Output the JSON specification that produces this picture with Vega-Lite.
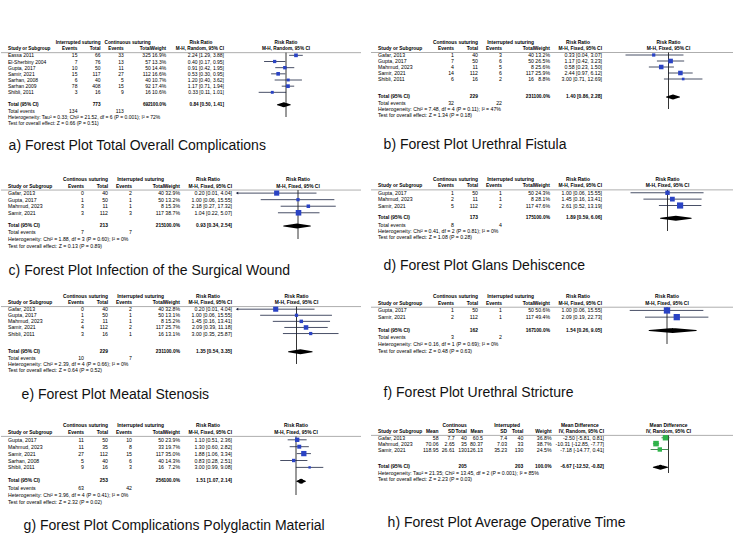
{
"$schema": "https://vega.github.io/schema/vega-lite/v6.json",
"background": "white",
"padding": {"left": 0, "top": 40, "right": 0, "bottom": 0},
"config": {
 "view": {"stroke": null},
 "font": "Liberation Sans",
 "title": {"fontSize": 14, "fontWeight": "normal", "color": "#111111", "font": "Liberation Sans"},
 "axis": {"labelFontSize": 5, "titleFontSize": 5, "titleFontWeight": "normal", "tickSize": 2, "labelPadding": 1, "titlePadding": 1.5, "domainColor": "#000", "tickColor": "#000", "labelColor": "#000", "titleColor": "#000", "domainWidth": 0.7, "tickWidth": 0.7, "grid": false, "labelOverlap": false, "labelFlush": false, "labelFont": "Liberation Sans", "titleFont": "Liberation Sans"}
},
"datasets": {
 "rows": [
  {"p":"a","row":"h1","t1":"Interrupted suturing","t2":"Continuous suturing","rr":"Risk Ratio","fh":"Risk Ratio"},
  {"p":"a","row":"h2","study":"Study or Subgroup","e1":"Events","t1":"Total","e2":"Events","t2":"Total","wt":"Weight","ci":"M-H, Random, 95% CI","fh":"M-H, Random, 95% CI"},
  {"p":"a","row":"Eassa 2011","study":"Eassa 2011","e1":"15","t1":"66","e2":"33","t2":"325","wt":"16.9%","ci":"2.24 [1.29, 3.88]","est":2.24,"lo":1.29,"hi":3.88,"w":16.9},
  {"p":"a","row":"El-Sherbiny 2004","study":"El-Sherbiny 2004","e1":"7","t1":"76","e2":"13","t2":"57","wt":"13.3%","ci":"0.40 [0.17, 0.95]","est":0.40,"lo":0.17,"hi":0.95,"w":13.3},
  {"p":"a","row":"Gupta, 2017","study":"Gupta, 2017","e1":"10","t1":"50","e2":"11","t2":"50","wt":"14.4%","ci":"0.91 [0.42, 1.95]","est":0.91,"lo":0.42,"hi":1.95,"w":14.4},
  {"p":"a","row":"Samir, 2021","study":"Samir, 2021","e1":"15","t1":"117","e2":"27","t2":"112","wt":"16.6%","ci":"0.53 [0.30, 0.95]","est":0.53,"lo":0.30,"hi":0.95,"w":16.6},
  {"p":"a","row":"Sarhan, 2008","study":"Sarhan, 2008","e1":"6","t1":"40","e2":"5","t2":"40","wt":"10.7%","ci":"1.20 [0.40, 3.62]","est":1.20,"lo":0.40,"hi":3.62,"w":10.7},
  {"p":"a","row":"Sarhan 2009","study":"Sarhan 2009","e1":"78","t1":"408","e2":"15","t2":"92","wt":"17.4%","ci":"1.17 [0.71, 1.94]","est":1.17,"lo":0.71,"hi":1.94,"w":17.4},
  {"p":"a","row":"Shibli, 2011","study":"Shibli, 2011","e1":"3","t1":"16","e2":"9","t2":"16","wt":"10.6%","ci":"0.33 [0.11, 1.01]","est":0.33,"lo":0.11,"hi":1.01,"w":10.6},
  {"p":"a","row":"Total (95% CI)","study":"Total (95% CI)","t1":"773","t2":"692","wt":"100.0%","ci":"0.84 [0.50, 1.41]","est":0.84,"lo":0.50,"hi":1.41},
  {"p":"a","row":"Total events","study":"Total events","e1":"134","e2":"113"},
  {"p":"a","row":"het","study":"Heterogeneity: Tau² = 0.33; Chi² = 21.52, df = 6 (P = 0.001); I² = 72%"},
  {"p":"a","row":"test","study":"Test for overall effect: Z = 0.66 (P = 0.51)"},

  {"p":"b","row":"h1","t1":"Continous suturing","t2":"Interrupted suturing","rr":"Risk Ratio","fh":"Risk Ratio"},
  {"p":"b","row":"h2","study":"Study or Subgroup","e1":"Events","t1":"Total","e2":"Events","t2":"Total","wt":"Weight","ci":"M-H, Fixed, 95% CI","fh":"M-H, Fixed, 95% CI"},
  {"p":"b","row":"Gafar, 2013","study":"Gafar, 2013","e1":"1","t1":"40","e2":"3","t2":"40","wt":"13.2%","ci":"0.33 [0.04, 3.07]","est":0.33,"lo":0.04,"hi":3.07,"w":13.2},
  {"p":"b","row":"Gupta, 2017","study":"Gupta, 2017","e1":"7","t1":"50","e2":"6","t2":"50","wt":"26.5%","ci":"1.17 [0.42, 3.23]","est":1.17,"lo":0.42,"hi":3.23,"w":26.5},
  {"p":"b","row":"Mahmud, 2023","study":"Mahmud, 2023","e1":"4","t1":"11","e2":"5","t2":"8","wt":"25.6%","ci":"0.58 [0.23, 1.50]","est":0.58,"lo":0.23,"hi":1.50,"w":25.6},
  {"p":"b","row":"Samir, 2021","study":"Samir, 2021","e1":"14","t1":"112","e2":"6","t2":"117","wt":"25.9%","ci":"2.44 [0.97, 6.12]","est":2.44,"lo":0.97,"hi":6.12,"w":25.9},
  {"p":"b","row":"Shibli, 2011","study":"Shibli, 2011","e1":"6","t1":"16","e2":"2","t2":"16","wt":"8.8%","ci":"3.00 [0.71, 12.69]","est":3.00,"lo":0.71,"hi":12.69,"w":8.8},
  {"p":"b","row":"Total (95% CI)","study":"Total (95% CI)","t1":"229","t2":"231","wt":"100.0%","ci":"1.40 [0.86, 2.28]","est":1.40,"lo":0.86,"hi":2.28},
  {"p":"b","row":"Total events","study":"Total events","e1":"32","e2":"22"},
  {"p":"b","row":"het","study":"Heterogeneity: Chi² = 7.48, df = 4 (P = 0.11); I² = 47%"},
  {"p":"b","row":"test","study":"Test for overall effect: Z = 1.34 (P = 0.18)"},

  {"p":"c","row":"h1","t1":"Continous suturing","t2":"Interrupted suturing","rr":"Risk Ratio","fh":"Risk Ratio"},
  {"p":"c","row":"h2","study":"Study or Subgroup","e1":"Events","t1":"Total","e2":"Events","t2":"Total","wt":"Weight","ci":"M-H, Fixed, 95% CI","fh":"M-H, Fixed, 95% CI"},
  {"p":"c","row":"Gafar, 2013","study":"Gafar, 2013","e1":"0","t1":"40","e2":"2","t2":"40","wt":"32.9%","ci":"0.20 [0.01, 4.04]","est":0.20,"lo":0.01,"hi":4.04,"w":32.9},
  {"p":"c","row":"Gupta, 2017","study":"Gupta, 2017","e1":"1","t1":"50","e2":"1","t2":"50","wt":"13.2%","ci":"1.00 [0.06, 15.55]","est":1.00,"lo":0.06,"hi":15.55,"w":13.2},
  {"p":"c","row":"Mahmud, 2023","study":"Mahmud, 2023","e1":"3","t1":"11","e2":"1","t2":"8","wt":"15.3%","ci":"2.18 [0.27, 17.32]","est":2.18,"lo":0.27,"hi":17.32,"w":15.3},
  {"p":"c","row":"Samir, 2021","study":"Samir, 2021","e1":"3","t1":"112","e2":"3","t2":"117","wt":"38.7%","ci":"1.04 [0.22, 5.07]","est":1.04,"lo":0.22,"hi":5.07,"w":38.7},
  {"p":"c","row":"Total (95% CI)","study":"Total (95% CI)","t1":"213","t2":"215","wt":"100.0%","ci":"0.93 [0.34, 2.54]","est":0.93,"lo":0.34,"hi":2.54},
  {"p":"c","row":"Total events","study":"Total events","e1":"7","e2":"7"},
  {"p":"c","row":"het","study":"Heterogeneity: Chi² = 1.88, df = 3 (P = 0.60); I² = 0%"},
  {"p":"c","row":"test","study":"Test for overall effect: Z = 0.13 (P = 0.89)"},

  {"p":"d","row":"h1","t1":"Continous suturing","t2":"Interrupted suturing","rr":"Risk Ratio","fh":"Risk Ratio"},
  {"p":"d","row":"h2","study":"Study or Subgroup","e1":"Events","t1":"Total","e2":"Events","t2":"Total","wt":"Weight","ci":"M-H, Fixed, 95% CI","fh":"M-H, Fixed, 95% CI"},
  {"p":"d","row":"Gupta, 2017","study":"Gupta, 2017","e1":"1","t1":"50","e2":"1","t2":"50","wt":"24.3%","ci":"1.00 [0.06, 15.55]","est":1.00,"lo":0.06,"hi":15.55,"w":24.3},
  {"p":"d","row":"Mahmud, 2023","study":"Mahmud, 2023","e1":"2","t1":"11","e2":"1","t2":"8","wt":"28.1%","ci":"1.45 [0.16, 13.41]","est":1.45,"lo":0.16,"hi":13.41,"w":28.1},
  {"p":"d","row":"Samir, 2021","study":"Samir, 2021","e1":"5","t1":"112","e2":"2","t2":"117","wt":"47.6%","ci":"2.61 [0.52, 13.19]","est":2.61,"lo":0.52,"hi":13.19,"w":47.6},
  {"p":"d","row":"Total (95% CI)","study":"Total (95% CI)","t1":"173","t2":"175","wt":"100.0%","ci":"1.89 [0.59, 6.06]","est":1.89,"lo":0.59,"hi":6.06},
  {"p":"d","row":"Total events","study":"Total events","e1":"8","e2":"4"},
  {"p":"d","row":"het","study":"Heterogeneity: Chi² = 0.41, df = 2 (P = 0.81); I² = 0%"},
  {"p":"d","row":"test","study":"Test for overall effect: Z = 1.08 (P = 0.28)"},

  {"p":"e","row":"h1","t1":"Continous suturing","t2":"Interrupted suturing","rr":"Risk Ratio","fh":"Risk Ratio"},
  {"p":"e","row":"h2","study":"Study or Subgroup","e1":"Events","t1":"Total","e2":"Events","t2":"Total","wt":"Weight","ci":"M-H, Fixed, 95% CI","fh":"M-H, Fixed, 95% CI"},
  {"p":"e","row":"Gafar, 2013","study":"Gafar, 2013","e1":"0","t1":"40","e2":"2","t2":"40","wt":"32.8%","ci":"0.20 [0.01, 4.04]","est":0.20,"lo":0.01,"hi":4.04,"w":32.8},
  {"p":"e","row":"Gupta, 2017","study":"Gupta, 2017","e1":"1","t1":"50","e2":"1","t2":"50","wt":"13.1%","ci":"1.00 [0.06, 15.55]","est":1.00,"lo":0.06,"hi":15.55,"w":13.1},
  {"p":"e","row":"Mahmud, 2023","study":"Mahmud, 2023","e1":"2","t1":"11","e2":"1","t2":"8","wt":"15.2%","ci":"1.45 [0.16, 13.41]","est":1.45,"lo":0.16,"hi":13.41,"w":15.2},
  {"p":"e","row":"Samir, 2021","study":"Samir, 2021","e1":"4","t1":"112","e2":"2","t2":"117","wt":"25.7%","ci":"2.09 [0.39, 11.18]","est":2.09,"lo":0.39,"hi":11.18,"w":25.7},
  {"p":"e","row":"Shibli, 2011","study":"Shibli, 2011","e1":"3","t1":"16","e2":"1","t2":"16","wt":"13.1%","ci":"3.00 [0.35, 25.87]","est":3.00,"lo":0.35,"hi":25.87,"w":13.1},
  {"p":"e","row":"Total (95% CI)","study":"Total (95% CI)","t1":"229","t2":"231","wt":"100.0%","ci":"1.35 [0.54, 3.35]","est":1.35,"lo":0.54,"hi":3.35},
  {"p":"e","row":"Total events","study":"Total events","e1":"10","e2":"7"},
  {"p":"e","row":"het","study":"Heterogeneity: Chi² = 2.39, df = 4 (P = 0.66); I² = 0%"},
  {"p":"e","row":"test","study":"Test for overall effect: Z = 0.64 (P = 0.52)"},

  {"p":"f","row":"h1","t1":"Continous suturing","t2":"Interrupted suturing","rr":"Risk Ratio","fh":"Risk Ratio"},
  {"p":"f","row":"h2","study":"Study or Subgroup","e1":"Events","t1":"Total","e2":"Events","t2":"Total","wt":"Weight","ci":"M-H, Fixed, 95% CI","fh":"M-H, Fixed, 95% CI"},
  {"p":"f","row":"Gupta, 2017","study":"Gupta, 2017","e1":"1","t1":"50","e2":"1","t2":"50","wt":"50.6%","ci":"1.00 [0.06, 15.55]","est":1.00,"lo":0.06,"hi":15.55,"w":50.6},
  {"p":"f","row":"Samir, 2021","study":"Samir, 2021","e1":"2","t1":"112","e2":"1","t2":"117","wt":"49.4%","ci":"2.09 [0.19, 22.73]","est":2.09,"lo":0.19,"hi":22.73,"w":49.4},
  {"p":"f","row":"Total (95% CI)","study":"Total (95% CI)","t1":"162","t2":"167","wt":"100.0%","ci":"1.54 [0.26, 9.05]","est":1.54,"lo":0.26,"hi":9.05},
  {"p":"f","row":"Total events","study":"Total events","e1":"3","e2":"2"},
  {"p":"f","row":"het","study":"Heterogeneity: Chi² = 0.16, df = 1 (P = 0.69); I² = 0%"},
  {"p":"f","row":"test","study":"Test for overall effect: Z = 0.48 (P = 0.63)"},

  {"p":"g","row":"h1","t1":"Continous suturing","t2":"Interrupted suturing","rr":"Risk Ratio","fh":"Risk Ratio"},
  {"p":"g","row":"h2","study":"Study or Subgroup","e1":"Events","t1":"Total","e2":"Events","t2":"Total","wt":"Weight","ci":"M-H, Fixed, 95% CI","fh":"M-H, Fixed, 95% CI"},
  {"p":"g","row":"Gupta, 2017","study":"Gupta, 2017","e1":"11","t1":"50","e2":"10","t2":"50","wt":"23.9%","ci":"1.10 [0.51, 2.36]","est":1.10,"lo":0.51,"hi":2.36,"w":23.9},
  {"p":"g","row":"Mahmud, 2023","study":"Mahmud, 2023","e1":"11","t1":"35","e2":"8","t2":"33","wt":"19.7%","ci":"1.30 [0.60, 2.82]","est":1.30,"lo":0.60,"hi":2.82,"w":19.7},
  {"p":"g","row":"Samir, 2021","study":"Samir, 2021","e1":"27","t1":"112","e2":"15","t2":"117","wt":"35.0%","ci":"1.88 [1.06, 3.34]","est":1.88,"lo":1.06,"hi":3.34,"w":35.0},
  {"p":"g","row":"Sarhan, 2008","study":"Sarhan, 2008","e1":"5","t1":"40","e2":"6","t2":"40","wt":"14.3%","ci":"0.83 [0.28, 2.51]","est":0.83,"lo":0.28,"hi":2.51,"w":14.3},
  {"p":"g","row":"Shibli, 2011","study":"Shibli, 2011","e1":"9","t1":"16","e2":"3","t2":"16","wt":"7.2%","ci":"3.00 [0.99, 9.08]","est":3.00,"lo":0.99,"hi":9.08,"w":7.2},
  {"p":"g","row":"Total (95% CI)","study":"Total (95% CI)","t1":"253","t2":"256","wt":"100.0%","ci":"1.51 [1.07, 2.14]","est":1.51,"lo":1.07,"hi":2.14},
  {"p":"g","row":"Total events","study":"Total events","e1":"63","e2":"42"},
  {"p":"g","row":"het","study":"Heterogeneity: Chi² = 3.96, df = 4 (P = 0.41); I² = 0%"},
  {"p":"g","row":"test","study":"Test for overall effect: Z = 2.32 (P = 0.02)"},

  {"p":"h","row":"h1","s1":"Continous","s2":"Interrupted","rr":"Mean Difference","fh":"Mean Difference"},
  {"p":"h","row":"h2","study":"Study or Subgroup","m1":"Mean","s1":"SD","n1":"Total","m2":"Mean","s2":"SD","n2":"Total","wt":"Weight","ci":"IV, Random, 95% CI","fh":"IV, Random, 95% CI"},
  {"p":"h","row":"Gafar, 2013","study":"Gafar, 2013","m1":"58","s1":"7.7","n1":"40","m2":"60.5","s2":"7.4","n2":"40","wt":"36.8%","ci":"-2.50 [-5.81, 0.81]","est":-2.50,"lo":-5.81,"hi":0.81,"w":36.8},
  {"p":"h","row":"Mahmud, 2023","study":"Mahmud, 2023","m1":"70.06","s1":"2.65","n1":"35","m2":"80.37","s2":"7.03","n2":"33","wt":"38.7%","ci":"-10.31 [-12.85, -7.77]","est":-10.31,"lo":-12.85,"hi":-7.77,"w":38.7},
  {"p":"h","row":"Samir, 2021","study":"Samir, 2021","m1":"118.95","s1":"26.61","n1":"130","m2":"126.13","s2":"35.23","n2":"130","wt":"24.5%","ci":"-7.18 [-14.77, 0.41]","est":-7.18,"lo":-14.77,"hi":0.41,"w":24.5},
  {"p":"h","row":"Total (95% CI)","study":"Total (95% CI)","n1":"205","n2":"203","wt":"100.0%","ci":"-6.67 [-12.52, -0.82]","est":-6.67,"lo":-12.52,"hi":-0.82},
  {"p":"h","row":"het","study":"Heterogeneity: Tau² = 21.35; Chi² = 13.45, df = 2 (P = 0.001); I² = 85%"},
  {"p":"h","row":"test","study":"Test for overall effect: Z = 2.23 (P = 0.03)"}
 ]
},
"spacing": 23,
"vconcat": [
 {"hconcat": [
  {
   "width": 360, "height": 74,
   "title": {"text": "a) Forest Plot Total Overall Complications", "orient": "bottom", "anchor": "start", "dx": 8, "offset": 13},
   "data": {"name": "rows"},
   "transform": [{"filter": "datum.p === 'a'"}],
   "encoding": {"y": {"field": "row", "type": "nominal", "axis": null, "scale": {"type": "point", "padding": 0, "range": [0, 80.17], "domain": ["h1","h2","Eassa 2011","El-Sherbiny 2004","Gupta, 2017","Samir, 2021","Sarhan, 2008","Sarhan 2009","Shibli, 2011","g1","Total (95% CI)","Total events","het","test"]}}},
   "layer": [
    {"transform": [{"filter": "datum.row === 'h1'"}], "mark": {"type": "rule", "color": "#999999", "strokeWidth": 0.8, "yOffset": 3.5}, "encoding": {"y": {"datum": "h2", "type": "nominal"}}},
    {
     "transform": [{"fold": ["study","e1","t1","e2","t2","wt","ci","rr"], "as": ["col","txt"]}, {"filter": "datum.txt != null"}],
     "encoding": {"x": {"field": "col", "type": "nominal", "axis": null, "scale": {"type": "point", "padding": 0, "range": [7, 223], "domain": ["study","1","2","3","4","5","6","7","8","9","10","11","12","13","14","15","16","17","e1","19","20","21","22","23","t1","25","26","27","28","29","e2","31","32","33","34","35","36","t2","38","39","40","wt","42","43","44","45","46","47","48","49","rr","51","52","53","54","55","ci"]}}, "text": {"field": "txt", "type": "nominal"}},
     "layer": [
      {"transform": [{"filter": "datum.col === 'study' && !(datum.row === 'h1' || datum.row === 'h2' || datum.row === 'Total (95% CI)')"}], "mark": {"type": "text", "align": "left", "baseline": "middle", "fontSize": 5, "color": "#000"}},
      {"transform": [{"filter": "datum.col === 'study' && (datum.row === 'h2' || datum.row === 'Total (95% CI)')"}], "mark": {"type": "text", "align": "left", "baseline": "middle", "fontSize": 4.7, "fontWeight": "bold", "color": "#000"}},
      {"transform": [{"filter": "datum.col !== 'study' && datum.col !== 'rr' && !(datum.row === 'h1' || datum.row === 'h2' || datum.row === 'Total (95% CI)')"}], "mark": {"type": "text", "align": "right", "baseline": "middle", "fontSize": 5, "color": "#000"}},
      {"transform": [{"filter": "datum.col !== 'study' && datum.col !== 'rr' && (datum.row === 'h1' || datum.row === 'h2' || datum.row === 'Total (95% CI)')"}], "mark": {"type": "text", "align": "right", "baseline": "middle", "fontSize": 4.7, "fontWeight": "bold", "color": "#000"}},
      {"transform": [{"filter": "datum.col === 'rr'"}], "mark": {"type": "text", "align": "center", "baseline": "middle", "fontSize": 4.7, "fontWeight": "bold", "color": "#000"}}
     ]
    },
    {"layer": [
     {"transform": [{"filter": "datum.row === 'h1'"}], "mark": {"type": "rule", "color": "#000", "strokeWidth": 0.8, "yOffset": 3.5}, "encoding": {"x": {"datum": 1, "type": "quantitative", "scale": {"type": "log", "domain": [0.01, 100], "range": [228, 342]}, "axis": {"orient": "bottom", "values": [0.01, 0.1, 1, 10, 100], "format": "~g", "title": "Interrupted suturing     Continuous suturing"}}, "y": {"datum": "h2", "type": "nominal"}, "y2": {"datum": "het"}}},
     {"transform": [{"filter": "datum.w != null"}], "mark": {"type": "rule", "color": "#1b2340", "strokeWidth": 0.8}, "encoding": {"x": {"field": "lo", "type": "quantitative", "scale": {"type": "log", "domain": [0.01, 100], "range": [228, 342]}, "axis": null}, "x2": {"field": "hi"}}},
     {"transform": [{"filter": "datum.w != null"}], "mark": {"type": "square", "color": "#2a43c4", "opacity": 1}, "encoding": {"x": {"field": "est", "type": "quantitative", "scale": {"type": "log", "domain": [0.01, 100], "range": [228, 342]}, "axis": null}, "size": {"field": "w", "type": "quantitative", "scale": {"domain": [0, 50], "range": [0, 40]}, "legend": null}}},
     {"transform": [{"filter": "datum.row === 'Total (95% CI)'"}, {"fold": ["lo","est","hi"], "as": ["k","v"]}], "mark": {"type": "trail", "color": "#000"}, "encoding": {"x": {"field": "v", "type": "quantitative", "scale": {"type": "log", "domain": [0.01, 100], "range": [228, 342]}, "axis": null}, "order": {"field": "v", "type": "quantitative"}, "size": {"condition": {"test": "datum.k === 'est'", "value": 5}, "value": 0}}},
     {"transform": [{"filter": "datum.fh != null"}], "mark": {"type": "text", "align": "center", "baseline": "middle", "fontSize": 4.7, "fontWeight": "bold", "color": "#000"}, "encoding": {"x": {"datum": 1, "type": "quantitative", "scale": {"type": "log", "domain": [0.01, 100], "range": [228, 342]}, "axis": null}, "text": {"field": "fh", "type": "nominal"}}}
    ]}
   ],
   "resolve": {"scale": {"x": "independent"}, "axis": {"x": "independent"}}
  },
  {
   "width": 362, "height": 66,
   "title": {"text": "b) Forest Plot Urethral Fistula", "orient": "bottom", "anchor": "start", "dx": 13, "offset": 20},
   "data": {"name": "rows"},
   "transform": [{"filter": "datum.p === 'b'"}],
   "encoding": {"y": {"field": "row", "type": "nominal", "axis": null, "scale": {"type": "point", "padding": 0, "range": [0, 72], "domain": ["h1","h2","Gafar, 2013","Gupta, 2017","Mahmud, 2023","Samir, 2021","Shibli, 2011","g1","g2","Total (95% CI)","Total events","het","test"]}}},
   "layer": [
    {"transform": [{"filter": "datum.row === 'h1'"}], "mark": {"type": "rule", "color": "#999999", "strokeWidth": 0.8, "yOffset": 3.5}, "encoding": {"y": {"datum": "h2", "type": "nominal"}}},
    {
     "transform": [{"fold": ["study","e1","t1","e2","t2","wt","ci","rr"], "as": ["col","txt"]}, {"filter": "datum.txt != null"}],
     "encoding": {"x": {"field": "col", "type": "nominal", "axis": null, "scale": {"type": "point", "padding": 0, "range": [7, 231], "domain": ["study","1","2","3","4","5","6","7","8","9","10","11","12","13","14","15","16","17","18","e1","20","21","22","23","24","t1","26","27","28","29","30","e2","32","33","34","35","36","37","38","t2","40","41","42","wt","44","45","46","47","48","49","rr","51","52","53","54","55","ci"]}}, "text": {"field": "txt", "type": "nominal"}},
     "layer": [
      {"transform": [{"filter": "datum.col === 'study' && !(datum.row === 'h1' || datum.row === 'h2' || datum.row === 'Total (95% CI)')"}], "mark": {"type": "text", "align": "left", "baseline": "middle", "fontSize": 5.2, "color": "#000"}},
      {"transform": [{"filter": "datum.col === 'study' && (datum.row === 'h2' || datum.row === 'Total (95% CI)')"}], "mark": {"type": "text", "align": "left", "baseline": "middle", "fontSize": 4.9, "fontWeight": "bold", "color": "#000"}},
      {"transform": [{"filter": "datum.col !== 'study' && datum.col !== 'rr' && !(datum.row === 'h1' || datum.row === 'h2' || datum.row === 'Total (95% CI)')"}], "mark": {"type": "text", "align": "right", "baseline": "middle", "fontSize": 5.2, "color": "#000"}},
      {"transform": [{"filter": "datum.col !== 'study' && datum.col !== 'rr' && (datum.row === 'h1' || datum.row === 'h2' || datum.row === 'Total (95% CI)')"}], "mark": {"type": "text", "align": "right", "baseline": "middle", "fontSize": 4.9, "fontWeight": "bold", "color": "#000"}},
      {"transform": [{"filter": "datum.col === 'rr'"}], "mark": {"type": "text", "align": "center", "baseline": "middle", "fontSize": 4.9, "fontWeight": "bold", "color": "#000"}}
     ]
    },
    {"layer": [
     {"transform": [{"filter": "datum.row === 'h1'"}], "mark": {"type": "rule", "color": "#000", "strokeWidth": 0.8, "yOffset": 3.5}, "encoding": {"x": {"datum": 1, "type": "quantitative", "scale": {"type": "log", "domain": [0.01, 100], "range": [236, 359]}, "axis": {"orient": "bottom", "values": [0.01, 0.1, 1, 10, 100], "format": "~g", "title": "Interrupted suturing     Continous suturing"}}, "y": {"datum": "h2", "type": "nominal"}, "y2": {"datum": "het"}}},
     {"transform": [{"filter": "datum.w != null"}], "mark": {"type": "rule", "color": "#1b2340", "strokeWidth": 0.8}, "encoding": {"x": {"field": "lo", "type": "quantitative", "scale": {"type": "log", "domain": [0.01, 100], "range": [236, 359]}, "axis": null}, "x2": {"field": "hi"}}},
     {"transform": [{"filter": "datum.w != null"}], "mark": {"type": "square", "color": "#2a43c4", "opacity": 1}, "encoding": {"x": {"field": "est", "type": "quantitative", "scale": {"type": "log", "domain": [0.01, 100], "range": [236, 359]}, "axis": null}, "size": {"field": "w", "type": "quantitative", "scale": {"domain": [0, 50], "range": [0, 40]}, "legend": null}}},
     {"transform": [{"filter": "datum.row === 'Total (95% CI)'"}, {"fold": ["lo","est","hi"], "as": ["k","v"]}], "mark": {"type": "trail", "color": "#000"}, "encoding": {"x": {"field": "v", "type": "quantitative", "scale": {"type": "log", "domain": [0.01, 100], "range": [236, 359]}, "axis": null}, "order": {"field": "v", "type": "quantitative"}, "size": {"condition": {"test": "datum.k === 'est'", "value": 5}, "value": 0}}},
     {"transform": [{"filter": "datum.fh != null"}], "mark": {"type": "text", "align": "center", "baseline": "middle", "fontSize": 4.9, "fontWeight": "bold", "color": "#000"}, "encoding": {"x": {"datum": 1, "type": "quantitative", "scale": {"type": "log", "domain": [0.01, 100], "range": [236, 359]}, "axis": null}, "text": {"field": "fh", "type": "nominal"}}}
    ]}
   ],
   "resolve": {"scale": {"x": "independent"}, "axis": {"x": "independent"}}
  }
 ], "spacing": 8},
 {"spacing": 16, "vconcat": [
 {"hconcat": [
  {
   "width": 360, "height": 59,
   "title": {"text": "c) Forest Plot Infection of the Surgical Wound", "orient": "bottom", "anchor": "start", "dx": 8, "offset": 15},
   "data": {"name": "rows"},
   "transform": [{"filter": "datum.p === 'c'"}],
   "encoding": {"y": {"field": "row", "type": "nominal", "axis": null, "scale": {"type": "point", "padding": 0, "range": [0, 65.56], "domain": ["h1","h2","Gafar, 2013","Gupta, 2017","Mahmud, 2023","Samir, 2021","g1","Total (95% CI)","Total events","het","test"]}}},
   "layer": [
    {"transform": [{"filter": "datum.row === 'h1'"}], "mark": {"type": "rule", "color": "#999999", "strokeWidth": 0.8, "yOffset": 3.5}, "encoding": {"y": {"datum": "h2", "type": "nominal"}}},
    {
     "transform": [{"fold": ["study","e1","t1","e2","t2","wt","ci","rr"], "as": ["col","txt"]}, {"filter": "datum.txt != null"}],
     "encoding": {"x": {"field": "col", "type": "nominal", "axis": null, "scale": {"type": "point", "padding": 0, "range": [7, 231], "domain": ["study","1","2","3","4","5","6","7","8","9","10","11","12","13","14","15","16","17","18","e1","20","21","22","23","24","t1","26","27","28","29","30","e2","32","33","34","35","36","37","38","t2","40","41","42","wt","44","45","46","47","48","49","rr","51","52","53","54","55","ci"]}}, "text": {"field": "txt", "type": "nominal"}},
     "layer": [
      {"transform": [{"filter": "datum.col === 'study' && !(datum.row === 'h1' || datum.row === 'h2' || datum.row === 'Total (95% CI)')"}], "mark": {"type": "text", "align": "left", "baseline": "middle", "fontSize": 5.2, "color": "#000"}},
      {"transform": [{"filter": "datum.col === 'study' && (datum.row === 'h2' || datum.row === 'Total (95% CI)')"}], "mark": {"type": "text", "align": "left", "baseline": "middle", "fontSize": 4.9, "fontWeight": "bold", "color": "#000"}},
      {"transform": [{"filter": "datum.col !== 'study' && datum.col !== 'rr' && !(datum.row === 'h1' || datum.row === 'h2' || datum.row === 'Total (95% CI)')"}], "mark": {"type": "text", "align": "right", "baseline": "middle", "fontSize": 5.2, "color": "#000"}},
      {"transform": [{"filter": "datum.col !== 'study' && datum.col !== 'rr' && (datum.row === 'h1' || datum.row === 'h2' || datum.row === 'Total (95% CI)')"}], "mark": {"type": "text", "align": "right", "baseline": "middle", "fontSize": 4.9, "fontWeight": "bold", "color": "#000"}},
      {"transform": [{"filter": "datum.col === 'rr'"}], "mark": {"type": "text", "align": "center", "baseline": "middle", "fontSize": 4.9, "fontWeight": "bold", "color": "#000"}}
     ]
    },
    {"layer": [
     {"transform": [{"filter": "datum.row === 'h1'"}], "mark": {"type": "rule", "color": "#000", "strokeWidth": 0.8, "yOffset": 3.5}, "encoding": {"x": {"datum": 1, "type": "quantitative", "scale": {"type": "log", "domain": [0.01, 100], "range": [236, 358]}, "axis": {"orient": "bottom", "values": [0.01, 0.1, 1, 10, 100], "format": "~g", "title": "Continous suturing     Interrupted suturing"}}, "y": {"datum": "h2", "type": "nominal"}, "y2": {"datum": "het"}}},
     {"transform": [{"filter": "datum.w != null"}], "mark": {"type": "rule", "color": "#1b2340", "strokeWidth": 0.8}, "encoding": {"x": {"field": "lo", "type": "quantitative", "scale": {"type": "log", "domain": [0.01, 100], "range": [236, 358]}, "axis": null}, "x2": {"field": "hi"}}},
     {"transform": [{"filter": "datum.w != null && datum.lo <= 0.01"}], "mark": {"type": "point", "shape": "triangle-left", "filled": true, "color": "#1b2340", "size": 8, "opacity": 1}, "encoding": {"x": {"field": "lo", "type": "quantitative", "scale": {"type": "log", "domain": [0.01, 100], "range": [236, 358]}, "axis": null}}},
     {"transform": [{"filter": "datum.w != null"}], "mark": {"type": "square", "color": "#2a43c4", "opacity": 1}, "encoding": {"x": {"field": "est", "type": "quantitative", "scale": {"type": "log", "domain": [0.01, 100], "range": [236, 358]}, "axis": null}, "size": {"field": "w", "type": "quantitative", "scale": {"domain": [0, 50], "range": [0, 40]}, "legend": null}}},
     {"transform": [{"filter": "datum.row === 'Total (95% CI)'"}, {"fold": ["lo","est","hi"], "as": ["k","v"]}], "mark": {"type": "trail", "color": "#000"}, "encoding": {"x": {"field": "v", "type": "quantitative", "scale": {"type": "log", "domain": [0.01, 100], "range": [236, 358]}, "axis": null}, "order": {"field": "v", "type": "quantitative"}, "size": {"condition": {"test": "datum.k === 'est'", "value": 5}, "value": 0}}},
     {"transform": [{"filter": "datum.fh != null"}], "mark": {"type": "text", "align": "center", "baseline": "middle", "fontSize": 4.9, "fontWeight": "bold", "color": "#000"}, "encoding": {"x": {"datum": 1, "type": "quantitative", "scale": {"type": "log", "domain": [0.01, 100], "range": [236, 358]}, "axis": null}, "text": {"field": "fh", "type": "nominal"}}}
    ]}
   ],
   "resolve": {"scale": {"x": "independent"}, "axis": {"x": "independent"}}
  },
  {
   "width": 362, "height": 51,
   "title": {"text": "d) Forest Plot Glans Dehiscence", "orient": "bottom", "anchor": "start", "dx": 13, "offset": 18},
   "data": {"name": "rows"},
   "transform": [{"filter": "datum.p === 'd'"}],
   "encoding": {"y": {"field": "row", "type": "nominal", "axis": null, "scale": {"type": "point", "padding": 0, "range": [0, 57.375], "domain": ["h1","h2","Gupta, 2017","Mahmud, 2023","Samir, 2021","g1","Total (95% CI)","Total events","het","test"]}}},
   "layer": [
    {"transform": [{"filter": "datum.row === 'h1'"}], "mark": {"type": "rule", "color": "#999999", "strokeWidth": 0.8, "yOffset": 3.5}, "encoding": {"y": {"datum": "h2", "type": "nominal"}}},
    {
     "transform": [{"fold": ["study","e1","t1","e2","t2","wt","ci","rr"], "as": ["col","txt"]}, {"filter": "datum.txt != null"}],
     "encoding": {"x": {"field": "col", "type": "nominal", "axis": null, "scale": {"type": "point", "padding": 0, "range": [7, 231], "domain": ["study","1","2","3","4","5","6","7","8","9","10","11","12","13","14","15","16","17","18","e1","20","21","22","23","24","t1","26","27","28","29","30","e2","32","33","34","35","36","37","38","t2","40","41","42","wt","44","45","46","47","48","49","rr","51","52","53","54","55","ci"]}}, "text": {"field": "txt", "type": "nominal"}},
     "layer": [
      {"transform": [{"filter": "datum.col === 'study' && !(datum.row === 'h1' || datum.row === 'h2' || datum.row === 'Total (95% CI)')"}], "mark": {"type": "text", "align": "left", "baseline": "middle", "fontSize": 5.2, "color": "#000"}},
      {"transform": [{"filter": "datum.col === 'study' && (datum.row === 'h2' || datum.row === 'Total (95% CI)')"}], "mark": {"type": "text", "align": "left", "baseline": "middle", "fontSize": 4.9, "fontWeight": "bold", "color": "#000"}},
      {"transform": [{"filter": "datum.col !== 'study' && datum.col !== 'rr' && !(datum.row === 'h1' || datum.row === 'h2' || datum.row === 'Total (95% CI)')"}], "mark": {"type": "text", "align": "right", "baseline": "middle", "fontSize": 5.2, "color": "#000"}},
      {"transform": [{"filter": "datum.col !== 'study' && datum.col !== 'rr' && (datum.row === 'h1' || datum.row === 'h2' || datum.row === 'Total (95% CI)')"}], "mark": {"type": "text", "align": "right", "baseline": "middle", "fontSize": 4.9, "fontWeight": "bold", "color": "#000"}},
      {"transform": [{"filter": "datum.col === 'rr'"}], "mark": {"type": "text", "align": "center", "baseline": "middle", "fontSize": 4.9, "fontWeight": "bold", "color": "#000"}}
     ]
    },
    {"layer": [
     {"transform": [{"filter": "datum.row === 'h1'"}], "mark": {"type": "rule", "color": "#000", "strokeWidth": 0.8, "yOffset": 3.5}, "encoding": {"x": {"datum": 1, "type": "quantitative", "scale": {"type": "log", "domain": [0.01, 100], "range": [236, 357]}, "axis": {"orient": "bottom", "values": [0.01, 0.1, 1, 10, 100], "format": "~g", "title": "Interrupted suturing     Continous suturing"}}, "y": {"datum": "h2", "type": "nominal"}, "y2": {"datum": "het"}}},
     {"transform": [{"filter": "datum.w != null"}], "mark": {"type": "rule", "color": "#1b2340", "strokeWidth": 0.8}, "encoding": {"x": {"field": "lo", "type": "quantitative", "scale": {"type": "log", "domain": [0.01, 100], "range": [236, 357]}, "axis": null}, "x2": {"field": "hi"}}},
     {"transform": [{"filter": "datum.w != null"}], "mark": {"type": "square", "color": "#2a43c4", "opacity": 1}, "encoding": {"x": {"field": "est", "type": "quantitative", "scale": {"type": "log", "domain": [0.01, 100], "range": [236, 357]}, "axis": null}, "size": {"field": "w", "type": "quantitative", "scale": {"domain": [0, 50], "range": [0, 40]}, "legend": null}}},
     {"transform": [{"filter": "datum.row === 'Total (95% CI)'"}, {"fold": ["lo","est","hi"], "as": ["k","v"]}], "mark": {"type": "trail", "color": "#000"}, "encoding": {"x": {"field": "v", "type": "quantitative", "scale": {"type": "log", "domain": [0.01, 100], "range": [236, 357]}, "axis": null}, "order": {"field": "v", "type": "quantitative"}, "size": {"condition": {"test": "datum.k === 'est'", "value": 5}, "value": 0}}},
     {"transform": [{"filter": "datum.fh != null"}], "mark": {"type": "text", "align": "center", "baseline": "middle", "fontSize": 4.9, "fontWeight": "bold", "color": "#000"}, "encoding": {"x": {"datum": 1, "type": "quantitative", "scale": {"type": "log", "domain": [0.01, 100], "range": [236, 357]}, "axis": null}, "text": {"field": "fh", "type": "nominal"}}}
    ]}
   ],
   "resolve": {"scale": {"x": "independent"}, "axis": {"x": "independent"}}
  }
 ], "spacing": 8},
 {"spacing": 20, "vconcat": [
 {"hconcat": [
  {
   "width": 360, "height": 67,
   "title": {"text": "e) Forest Plot Meatal Stenosis", "orient": "bottom", "anchor": "start", "dx": 21, "offset": 15},
   "data": {"name": "rows"},
   "transform": [{"filter": "datum.p === 'e'"}],
   "encoding": {"y": {"field": "row", "type": "nominal", "axis": null, "scale": {"type": "point", "padding": 0, "range": [0, 73.09], "domain": ["h1","h2","Gafar, 2013","Gupta, 2017","Mahmud, 2023","Samir, 2021","Shibli, 2011","g1","g2","Total (95% CI)","Total events","het","test"]}}},
   "layer": [
    {"transform": [{"filter": "datum.row === 'h1'"}], "mark": {"type": "rule", "color": "#999999", "strokeWidth": 0.8, "yOffset": 3.5}, "encoding": {"y": {"datum": "h2", "type": "nominal"}}},
    {
     "transform": [{"fold": ["study","e1","t1","e2","t2","wt","ci","rr"], "as": ["col","txt"]}, {"filter": "datum.txt != null"}],
     "encoding": {"x": {"field": "col", "type": "nominal", "axis": null, "scale": {"type": "point", "padding": 0, "range": [7, 231], "domain": ["study","1","2","3","4","5","6","7","8","9","10","11","12","13","14","15","16","17","18","e1","20","21","22","23","24","t1","26","27","28","29","30","e2","32","33","34","35","36","37","38","t2","40","41","42","wt","44","45","46","47","48","49","rr","51","52","53","54","55","ci"]}}, "text": {"field": "txt", "type": "nominal"}},
     "layer": [
      {"transform": [{"filter": "datum.col === 'study' && !(datum.row === 'h1' || datum.row === 'h2' || datum.row === 'Total (95% CI)')"}], "mark": {"type": "text", "align": "left", "baseline": "middle", "fontSize": 5.2, "color": "#000"}},
      {"transform": [{"filter": "datum.col === 'study' && (datum.row === 'h2' || datum.row === 'Total (95% CI)')"}], "mark": {"type": "text", "align": "left", "baseline": "middle", "fontSize": 4.9, "fontWeight": "bold", "color": "#000"}},
      {"transform": [{"filter": "datum.col !== 'study' && datum.col !== 'rr' && !(datum.row === 'h1' || datum.row === 'h2' || datum.row === 'Total (95% CI)')"}], "mark": {"type": "text", "align": "right", "baseline": "middle", "fontSize": 5.2, "color": "#000"}},
      {"transform": [{"filter": "datum.col !== 'study' && datum.col !== 'rr' && (datum.row === 'h1' || datum.row === 'h2' || datum.row === 'Total (95% CI)')"}], "mark": {"type": "text", "align": "right", "baseline": "middle", "fontSize": 4.9, "fontWeight": "bold", "color": "#000"}},
      {"transform": [{"filter": "datum.col === 'rr'"}], "mark": {"type": "text", "align": "center", "baseline": "middle", "fontSize": 4.9, "fontWeight": "bold", "color": "#000"}}
     ]
    },
    {"layer": [
     {"transform": [{"filter": "datum.row === 'h1'"}], "mark": {"type": "rule", "color": "#000", "strokeWidth": 0.8, "yOffset": 3.5}, "encoding": {"x": {"datum": 1, "type": "quantitative", "scale": {"type": "log", "domain": [0.01, 100], "range": [236, 355]}, "axis": {"orient": "bottom", "values": [0.01, 0.1, 1, 10, 100], "format": "~g", "title": "Interrupted suturing     Continous suturing"}}, "y": {"datum": "h2", "type": "nominal"}, "y2": {"datum": "het"}}},
     {"transform": [{"filter": "datum.w != null"}], "mark": {"type": "rule", "color": "#1b2340", "strokeWidth": 0.8}, "encoding": {"x": {"field": "lo", "type": "quantitative", "scale": {"type": "log", "domain": [0.01, 100], "range": [236, 355]}, "axis": null}, "x2": {"field": "hi"}}},
     {"transform": [{"filter": "datum.w != null && datum.lo <= 0.01"}], "mark": {"type": "point", "shape": "triangle-left", "filled": true, "color": "#1b2340", "size": 8, "opacity": 1}, "encoding": {"x": {"field": "lo", "type": "quantitative", "scale": {"type": "log", "domain": [0.01, 100], "range": [236, 355]}, "axis": null}}},
     {"transform": [{"filter": "datum.w != null"}], "mark": {"type": "square", "color": "#2a43c4", "opacity": 1}, "encoding": {"x": {"field": "est", "type": "quantitative", "scale": {"type": "log", "domain": [0.01, 100], "range": [236, 355]}, "axis": null}, "size": {"field": "w", "type": "quantitative", "scale": {"domain": [0, 50], "range": [0, 40]}, "legend": null}}},
     {"transform": [{"filter": "datum.row === 'Total (95% CI)'"}, {"fold": ["lo","est","hi"], "as": ["k","v"]}], "mark": {"type": "trail", "color": "#000"}, "encoding": {"x": {"field": "v", "type": "quantitative", "scale": {"type": "log", "domain": [0.01, 100], "range": [236, 355]}, "axis": null}, "order": {"field": "v", "type": "quantitative"}, "size": {"condition": {"test": "datum.k === 'est'", "value": 5}, "value": 0}}},
     {"transform": [{"filter": "datum.fh != null"}], "mark": {"type": "text", "align": "center", "baseline": "middle", "fontSize": 4.9, "fontWeight": "bold", "color": "#000"}, "encoding": {"x": {"datum": 1, "type": "quantitative", "scale": {"type": "log", "domain": [0.01, 100], "range": [236, 355]}, "axis": null}, "text": {"field": "fh", "type": "nominal"}}}
    ]}
   ],
   "resolve": {"scale": {"x": "independent"}, "axis": {"x": "independent"}}
  },
  {
   "width": 362, "height": 47,
   "title": {"text": "f) Forest Plot Urethral Stricture", "orient": "bottom", "anchor": "start", "dx": 13, "offset": 32},
   "data": {"name": "rows"},
   "transform": [{"filter": "datum.p === 'f'"}],
   "encoding": {"y": {"field": "row", "type": "nominal", "axis": null, "scale": {"type": "point", "padding": 0, "range": [0, 53.71], "domain": ["h1","h2","Gupta, 2017","Samir, 2021","g1","Total (95% CI)","Total events","het","test"]}}},
   "layer": [
    {"transform": [{"filter": "datum.row === 'h1'"}], "mark": {"type": "rule", "color": "#999999", "strokeWidth": 0.8, "yOffset": 3.5}, "encoding": {"y": {"datum": "h2", "type": "nominal"}}},
    {
     "transform": [{"fold": ["study","e1","t1","e2","t2","wt","ci","rr"], "as": ["col","txt"]}, {"filter": "datum.txt != null"}],
     "encoding": {"x": {"field": "col", "type": "nominal", "axis": null, "scale": {"type": "point", "padding": 0, "range": [7, 231], "domain": ["study","1","2","3","4","5","6","7","8","9","10","11","12","13","14","15","16","17","18","e1","20","21","22","23","24","t1","26","27","28","29","30","e2","32","33","34","35","36","37","38","t2","40","41","42","wt","44","45","46","47","48","49","rr","51","52","53","54","55","ci"]}}, "text": {"field": "txt", "type": "nominal"}},
     "layer": [
      {"transform": [{"filter": "datum.col === 'study' && !(datum.row === 'h1' || datum.row === 'h2' || datum.row === 'Total (95% CI)')"}], "mark": {"type": "text", "align": "left", "baseline": "middle", "fontSize": 5.2, "color": "#000"}},
      {"transform": [{"filter": "datum.col === 'study' && (datum.row === 'h2' || datum.row === 'Total (95% CI)')"}], "mark": {"type": "text", "align": "left", "baseline": "middle", "fontSize": 4.9, "fontWeight": "bold", "color": "#000"}},
      {"transform": [{"filter": "datum.col !== 'study' && datum.col !== 'rr' && !(datum.row === 'h1' || datum.row === 'h2' || datum.row === 'Total (95% CI)')"}], "mark": {"type": "text", "align": "right", "baseline": "middle", "fontSize": 5.2, "color": "#000"}},
      {"transform": [{"filter": "datum.col !== 'study' && datum.col !== 'rr' && (datum.row === 'h1' || datum.row === 'h2' || datum.row === 'Total (95% CI)')"}], "mark": {"type": "text", "align": "right", "baseline": "middle", "fontSize": 4.9, "fontWeight": "bold", "color": "#000"}},
      {"transform": [{"filter": "datum.col === 'rr'"}], "mark": {"type": "text", "align": "center", "baseline": "middle", "fontSize": 4.9, "fontWeight": "bold", "color": "#000"}}
     ]
    },
    {"layer": [
     {"transform": [{"filter": "datum.row === 'h1'"}], "mark": {"type": "rule", "color": "#000", "strokeWidth": 0.8, "yOffset": 3.5}, "encoding": {"x": {"datum": 1, "type": "quantitative", "scale": {"type": "log", "domain": [0.01, 100], "range": [235, 357]}, "axis": {"orient": "bottom", "values": [0.01, 0.1, 1, 10, 100], "format": "~g", "title": "Interrupted suturing     Continous suturing"}}, "y": {"datum": "h2", "type": "nominal"}, "y2": {"datum": "het"}}},
     {"transform": [{"filter": "datum.w != null"}], "mark": {"type": "rule", "color": "#1b2340", "strokeWidth": 0.8}, "encoding": {"x": {"field": "lo", "type": "quantitative", "scale": {"type": "log", "domain": [0.01, 100], "range": [235, 357]}, "axis": null}, "x2": {"field": "hi"}}},
     {"transform": [{"filter": "datum.w != null"}], "mark": {"type": "square", "color": "#2a43c4", "opacity": 1}, "encoding": {"x": {"field": "est", "type": "quantitative", "scale": {"type": "log", "domain": [0.01, 100], "range": [235, 357]}, "axis": null}, "size": {"field": "w", "type": "quantitative", "scale": {"domain": [0, 50], "range": [0, 40]}, "legend": null}}},
     {"transform": [{"filter": "datum.row === 'Total (95% CI)'"}, {"fold": ["lo","est","hi"], "as": ["k","v"]}], "mark": {"type": "trail", "color": "#000"}, "encoding": {"x": {"field": "v", "type": "quantitative", "scale": {"type": "log", "domain": [0.01, 100], "range": [235, 357]}, "axis": null}, "order": {"field": "v", "type": "quantitative"}, "size": {"condition": {"test": "datum.k === 'est'", "value": 5}, "value": 0}}},
     {"transform": [{"filter": "datum.fh != null"}], "mark": {"type": "text", "align": "center", "baseline": "middle", "fontSize": 4.9, "fontWeight": "bold", "color": "#000"}, "encoding": {"x": {"datum": 1, "type": "quantitative", "scale": {"type": "log", "domain": [0.01, 100], "range": [235, 357]}, "axis": null}, "text": {"field": "fh", "type": "nominal"}}}
    ]}
   ],
   "resolve": {"scale": {"x": "independent"}, "axis": {"x": "independent"}}
  }
 ], "spacing": 8},
 {"hconcat": [
  {
   "width": 360, "height": 69,
   "title": {"text": "g) Forest Plot Complications Polyglactin Material", "orient": "bottom", "anchor": "start", "dx": 23, "offset": 14},
   "data": {"name": "rows"},
   "transform": [{"filter": "datum.p === 'g'"}],
   "encoding": {"y": {"field": "row", "type": "nominal", "axis": null, "scale": {"type": "point", "padding": 0, "range": [0, 75.9], "domain": ["h1","h2","Gupta, 2017","Mahmud, 2023","Samir, 2021","Sarhan, 2008","Shibli, 2011","g1","Total (95% CI)","Total events","het","test"]}}},
   "layer": [
    {"transform": [{"filter": "datum.row === 'h1'"}], "mark": {"type": "rule", "color": "#999999", "strokeWidth": 0.8, "yOffset": 3.5}, "encoding": {"y": {"datum": "h2", "type": "nominal"}}},
    {
     "transform": [{"fold": ["study","e1","t1","e2","t2","wt","ci","rr"], "as": ["col","txt"]}, {"filter": "datum.txt != null"}],
     "encoding": {"x": {"field": "col", "type": "nominal", "axis": null, "scale": {"type": "point", "padding": 0, "range": [7, 231], "domain": ["study","1","2","3","4","5","6","7","8","9","10","11","12","13","14","15","16","17","18","e1","20","21","22","23","24","t1","26","27","28","29","30","e2","32","33","34","35","36","37","38","t2","40","41","42","wt","44","45","46","47","48","49","rr","51","52","53","54","55","ci"]}}, "text": {"field": "txt", "type": "nominal"}},
     "layer": [
      {"transform": [{"filter": "datum.col === 'study' && !(datum.row === 'h1' || datum.row === 'h2' || datum.row === 'Total (95% CI)')"}], "mark": {"type": "text", "align": "left", "baseline": "middle", "fontSize": 5.2, "color": "#000"}},
      {"transform": [{"filter": "datum.col === 'study' && (datum.row === 'h2' || datum.row === 'Total (95% CI)')"}], "mark": {"type": "text", "align": "left", "baseline": "middle", "fontSize": 4.9, "fontWeight": "bold", "color": "#000"}},
      {"transform": [{"filter": "datum.col !== 'study' && datum.col !== 'rr' && !(datum.row === 'h1' || datum.row === 'h2' || datum.row === 'Total (95% CI)')"}], "mark": {"type": "text", "align": "right", "baseline": "middle", "fontSize": 5.2, "color": "#000"}},
      {"transform": [{"filter": "datum.col !== 'study' && datum.col !== 'rr' && (datum.row === 'h1' || datum.row === 'h2' || datum.row === 'Total (95% CI)')"}], "mark": {"type": "text", "align": "right", "baseline": "middle", "fontSize": 4.9, "fontWeight": "bold", "color": "#000"}},
      {"transform": [{"filter": "datum.col === 'rr'"}], "mark": {"type": "text", "align": "center", "baseline": "middle", "fontSize": 4.9, "fontWeight": "bold", "color": "#000"}}
     ]
    },
    {"layer": [
     {"transform": [{"filter": "datum.row === 'h1'"}], "mark": {"type": "rule", "color": "#000", "strokeWidth": 0.8, "yOffset": 3.5}, "encoding": {"x": {"datum": 1, "type": "quantitative", "scale": {"type": "log", "domain": [0.01, 100], "range": [238, 352]}, "axis": {"orient": "bottom", "values": [0.01, 0.1, 1, 10, 100], "format": "~g", "title": "Interrupted suturing     Continous suturing"}}, "y": {"datum": "h2", "type": "nominal"}, "y2": {"datum": "het"}}},
     {"transform": [{"filter": "datum.w != null"}], "mark": {"type": "rule", "color": "#1b2340", "strokeWidth": 0.8}, "encoding": {"x": {"field": "lo", "type": "quantitative", "scale": {"type": "log", "domain": [0.01, 100], "range": [238, 352]}, "axis": null}, "x2": {"field": "hi"}}},
     {"transform": [{"filter": "datum.w != null"}], "mark": {"type": "square", "color": "#2a43c4", "opacity": 1}, "encoding": {"x": {"field": "est", "type": "quantitative", "scale": {"type": "log", "domain": [0.01, 100], "range": [238, 352]}, "axis": null}, "size": {"field": "w", "type": "quantitative", "scale": {"domain": [0, 50], "range": [0, 40]}, "legend": null}}},
     {"transform": [{"filter": "datum.row === 'Total (95% CI)'"}, {"fold": ["lo","est","hi"], "as": ["k","v"]}], "mark": {"type": "trail", "color": "#000"}, "encoding": {"x": {"field": "v", "type": "quantitative", "scale": {"type": "log", "domain": [0.01, 100], "range": [238, 352]}, "axis": null}, "order": {"field": "v", "type": "quantitative"}, "size": {"condition": {"test": "datum.k === 'est'", "value": 5}, "value": 0}}},
     {"transform": [{"filter": "datum.fh != null"}], "mark": {"type": "text", "align": "center", "baseline": "middle", "fontSize": 4.9, "fontWeight": "bold", "color": "#000"}, "encoding": {"x": {"datum": 1, "type": "quantitative", "scale": {"type": "log", "domain": [0.01, 100], "range": [238, 352]}, "axis": null}, "text": {"field": "fh", "type": "nominal"}}}
    ]}
   ],
   "resolve": {"scale": {"x": "independent"}, "axis": {"x": "independent"}}
  },
  {
   "width": 362, "height": 47,
   "title": {"text": "h) Forest Plot Average Operative Time", "orient": "bottom", "anchor": "start", "dx": 17, "offset": 34},
   "data": {"name": "rows"},
   "transform": [{"filter": "datum.p === 'h'"}],
   "encoding": {"y": {"field": "row", "type": "nominal", "axis": null, "scale": {"type": "point", "padding": 0, "range": [0, 52.875], "domain": ["h1","h2","Gafar, 2013","Mahmud, 2023","Samir, 2021","g1","g2","Total (95% CI)","het","test"]}}},
   "layer": [
    {"transform": [{"filter": "datum.row === 'h1'"}], "mark": {"type": "rule", "color": "#999999", "strokeWidth": 0.8, "yOffset": 3.5}, "encoding": {"y": {"datum": "h2", "type": "nominal"}}},
    {
     "transform": [{"fold": ["study","m1","s1","n1","m2","s2","n2","wt","ci","rr"], "as": ["col","txt"]}, {"filter": "datum.txt != null"}],
     "encoding": {"x": {"field": "col", "type": "nominal", "axis": null, "scale": {"type": "point", "padding": 0, "range": [7, 233], "domain": ["study","1","2","3","4","5","6","7","8","9","10","11","12","13","14","m1","16","17","18","s1","20","21","n1","23","24","25","m2","27","28","29","30","31","s2","33","34","35","n2","37","38","39","40","41","42","wt","44","45","46","47","48","49","rr","51","52","53","54","55","ci"]}}, "text": {"field": "txt", "type": "nominal"}},
     "layer": [
      {"transform": [{"filter": "datum.col === 'study' && !(datum.row === 'h1' || datum.row === 'h2' || datum.row === 'Total (95% CI)')"}], "mark": {"type": "text", "align": "left", "baseline": "middle", "fontSize": 5.2, "color": "#000"}},
      {"transform": [{"filter": "datum.col === 'study' && (datum.row === 'h2' || datum.row === 'Total (95% CI)')"}], "mark": {"type": "text", "align": "left", "baseline": "middle", "fontSize": 4.9, "fontWeight": "bold", "color": "#000"}},
      {"transform": [{"filter": "datum.col !== 'study' && datum.col !== 'rr' && !(datum.row === 'h1' || datum.row === 'h2' || datum.row === 'Total (95% CI)')"}], "mark": {"type": "text", "align": "right", "baseline": "middle", "fontSize": 5.2, "color": "#000"}},
      {"transform": [{"filter": "datum.col !== 'study' && datum.col !== 'rr' && (datum.row === 'h2' || datum.row === 'Total (95% CI)')"}], "mark": {"type": "text", "align": "right", "baseline": "middle", "fontSize": 4.9, "fontWeight": "bold", "color": "#000"}},
      {"transform": [{"filter": "datum.col === 'rr' || datum.row === 'h1'"}], "mark": {"type": "text", "align": "center", "baseline": "middle", "fontSize": 4.9, "fontWeight": "bold", "color": "#000"}}
     ]
    },
    {"layer": [
     {"transform": [{"filter": "datum.row === 'h1'"}], "mark": {"type": "rule", "color": "#000", "strokeWidth": 0.8, "yOffset": 3.5}, "encoding": {"x": {"datum": 0, "type": "quantitative", "scale": {"type": "linear", "domain": [-50, 50], "range": [237, 358]}, "axis": {"orient": "bottom", "values": [-50, -25, 0, 25, 50], "format": "d", "title": "Favours Continuous     Favours Interrupted"}}, "y": {"datum": "h2", "type": "nominal"}, "y2": {"datum": "het"}}},
     {"transform": [{"filter": "datum.w != null"}], "mark": {"type": "rule", "color": "#1d6b2c", "strokeWidth": 0.8}, "encoding": {"x": {"field": "lo", "type": "quantitative", "scale": {"type": "linear", "domain": [-50, 50], "range": [237, 358]}, "axis": null}, "x2": {"field": "hi"}}},
     {"transform": [{"filter": "datum.w != null"}], "mark": {"type": "square", "color": "#2fb34a", "opacity": 1}, "encoding": {"x": {"field": "est", "type": "quantitative", "scale": {"type": "linear", "domain": [-50, 50], "range": [237, 358]}, "axis": null}, "size": {"field": "w", "type": "quantitative", "scale": {"domain": [0, 50], "range": [0, 30]}, "legend": null}}},
     {"transform": [{"filter": "datum.row === 'Total (95% CI)'"}, {"fold": ["lo","est","hi"], "as": ["k","v"]}], "mark": {"type": "trail", "color": "#000"}, "encoding": {"x": {"field": "v", "type": "quantitative", "scale": {"type": "linear", "domain": [-50, 50], "range": [237, 358]}, "axis": null}, "order": {"field": "v", "type": "quantitative"}, "size": {"condition": {"test": "datum.k === 'est'", "value": 5}, "value": 0}}},
     {"transform": [{"filter": "datum.fh != null"}], "mark": {"type": "text", "align": "center", "baseline": "middle", "fontSize": 4.9, "fontWeight": "bold", "color": "#000"}, "encoding": {"x": {"datum": 0, "type": "quantitative", "scale": {"type": "linear", "domain": [-50, 50], "range": [237, 358]}, "axis": null}, "text": {"field": "fh", "type": "nominal"}}}
    ]}
   ],
   "resolve": {"scale": {"x": "independent"}, "axis": {"x": "independent"}}
  }
 ], "spacing": 8}
 ]}
 ]}
]
}
